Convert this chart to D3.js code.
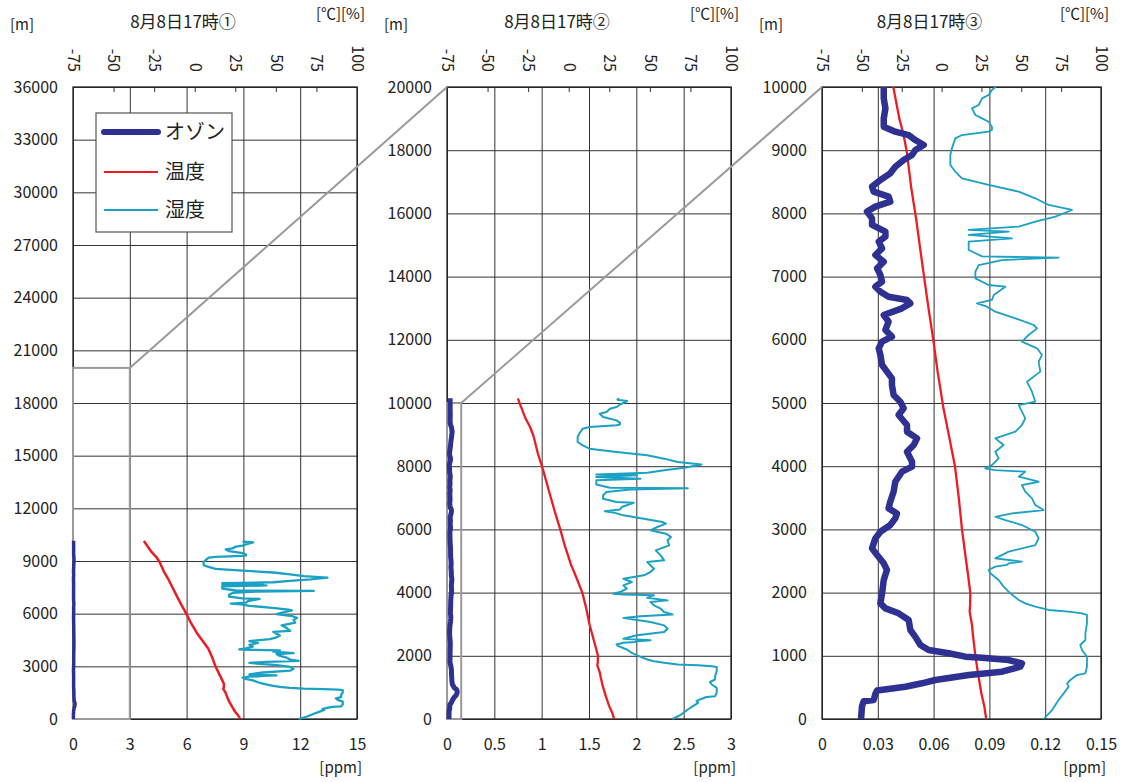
<!DOCTYPE html>
<html>
<head>
<meta charset="utf-8">
<script src="https://cdn.jsdelivr.net/npm/d3@7"></script>
<style>
  body { margin: 0; background: #fff; }
  svg { display: block; font-family: "Liberation Sans Narrow", "Noto Sans CJK JP", sans-serif; }
  .jp { font-family: "Noto Sans CJK JP", sans-serif; }
</style>
</head>
<body>
<svg id="chart" width="1124" height="782"></svg>
<script>
// ---- data: [altitude m, value] ----
const ozone = [
  [0,0.021],[200,0.0215],[280,0.0224],[300,0.0278],[400,0.0287],[450,0.0296],[510,0.0448],[565,0.0538],
  [617,0.0609],[696,0.0789],[749,0.0968],[828,0.1066],[880,0.1075],[933,0.1004],[970,0.086],[986,0.0771],
  [1040,0.0681],[1092,0.0573],[1170,0.0529],[1300,0.0502],[1408,0.0475],[1566,0.0466],[1672,0.0412],
  [1750,0.0341],[1830,0.0314],[1990,0.0323],[2200,0.0332],[2358,0.0349],[2464,0.0332],[2595,0.0296],
  [2700,0.0269],[2858,0.0287],[2963,0.0314],[3069,0.0367],[3174,0.0394],[3253,0.0403],[3333,0.0358],
  [3438,0.0367],[3596,0.0385],[3754,0.0394],[3913,0.043],[3992,0.0484],[4071,0.0484],[4229,0.0457],
  [4335,0.0493],[4440,0.0511],[4546,0.0457],[4652,0.0457],[4810,0.0412],[4916,0.0439],[5021,0.0421],
  [5127,0.0385],[5285,0.0376],[5390,0.0376],[5496,0.0349],[5601,0.0323],[5760,0.0314],[5865,0.0305],
  [5971,0.0323],[6050,0.0376],[6155,0.0341],[6287,0.0358],[6392,0.0332],[6498,0.043],[6577,0.0475],
  [6630,0.0457],[6682,0.0358],[6761,0.0314],[6840,0.0287],[6919,0.0323],[7025,0.0314],[7131,0.0296],
  [7236,0.0332],[7342,0.0287],[7447,0.0323],[7553,0.0305],[7632,0.0341],[7711,0.0341],[7817,0.0269],
  [7922,0.0269],[8028,0.0242],[8107,0.0287],[8186,0.0367],[8265,0.0358],[8344,0.0278],[8423,0.0269],
  [8528,0.0314],[8634,0.0367],[8739,0.0394],[8845,0.0439],[8924,0.0484],[9003,0.0502],[9082,0.0547],
  [9161,0.0502],[9240,0.0466],[9293,0.0394],[9372,0.0332],[9504,0.0332],[9662,0.0341],[9820,0.0332],
  [9979,0.0332],[10150,0.033]
];
const temperature = [
  [0,28.0],[200,26.8],[400,25.0],[700,23.0],[1000,21.2],[1300,19.8],[1500,19.0],[1700,17.6],[1800,17.9],
  [2000,18.0],[2300,16.5],[2500,15.4],[3000,12.8],[3500,10.8],[4000,8.4],[4500,4.5],[4900,1.3],
  [5500,-2.5],[6000,-5.2],[6500,-8.2],[7000,-11.0],[7420,-13.3],[7920,-16.0],[8400,-19.0],[8955,-21.7],
  [9240,-23.8],[9500,-26.5],[10030,-30.5],[10150,-31.3]
];
const humidity = [
  [0,64.0],[142,69.3],[300,73.4],[406,76.6],[512,79.7],[565,78.7],[617,80.8],[696,84.9],[723,90.2],
  [828,91.2],[986,91.2],[1092,88.1],[1171,87.0],[1250,90.2],[1356,90.2],[1514,91.2],[1646,91.2],
  [1672,88.1],[1698,79.7],[1725,67.2],[1777,58.8],[1830,52.5],[1883,48.4],[1989,43.1],[2094,38.9],
  [2200,35.8],[2305,30.6],[2358,29.5],[2411,33.7],[2437,41.0],[2464,42.1],[2489,50.4],[2516,42.1],
  [2542,33.7],[2648,42.1],[2753,58.8],[2858,60.9],[2963,58.8],[3069,50.4],[3148,40.0],[3200,33.7],
  [3253,44.2],[3306,64.0],[3385,58.8],[3491,56.7],[3596,52.5],[3702,50.4],[3754,60.9],[3834,48.4],
  [3913,52.5],[3939,33.7],[3966,27.4],[4018,31.6],[4124,35.8],[4229,33.7],[4335,38.9],[4440,33.7],
  [4546,46.3],[4652,50.4],[4757,52.5],[4863,50.4],[4968,48.4],[5021,58.8],[5179,56.7],[5337,53.6],
  [5496,61.9],[5654,60.9],[5760,63.0],[5865,59.9],[5971,50.4],[6076,54.6],[6181,59.9],[6234,57.8],
  [6340,46.3],[6445,33.7],[6524,28.5],[6577,22.2],[6630,31.6],[6709,32.7],[6840,40.0],[6867,29.5],
  [6972,21.2],[7078,21.2],[7183,23.3],[7262,37.9],[7299,73.4],[7320,25.4],[7421,17.0],[7553,17.0],
  [7606,44.2],[7659,17.0],[7711,42.1],[7738,17.0],[7790,48.4],[7870,58.8],[7949,71.4],[8054,81.8],
  [8133,67.2],[8239,58.8],[8344,48.4],[8450,29.5],[8555,12.8],[8660,8.6],[8766,5.5],[8924,5.5],
  [9029,6.5],[9187,8.6],[9240,12.8],[9293,29.5],[9319,31.6],[9372,31.6],[9451,29.5],[9504,25.4],
  [9557,21.2],[9662,19.1],[9715,23.3],[9820,25.4],[9873,29.5],[9952,31.6],[10000,33.7],[10060,36.0],
  [10100,30.0],[10150,31.0]
];

const titles = ['8月8日17時①', '8月8日17時②', '8月8日17時③'];
const ppmTicks = [
  [0, 3, 6, 9, 12, 15],
  [0, 0.5, 1, 1.5, 2, 2.5, 3],
  [0, 0.03, 0.06, 0.09, 0.12, 0.15]
];
const altTicks = [
  [0, 3000, 6000, 9000, 12000, 15000, 18000, 21000, 24000, 27000, 30000, 33000, 36000],
  [0, 2000, 4000, 6000, 8000, 10000, 12000, 14000, 16000, 18000, 20000],
  [0, 1000, 2000, 3000, 4000, 5000, 6000, 7000, 8000, 9000, 10000]
];
const degTicks = [-75, -50, -25, 0, 25, 50, 75, 100];
// extent of the next panel, drawn as a zoom box: [ppm, m]
const zoomExtents = [[3, 20000], [0.15, 10000]];
const legendNames = ['オゾン', '温度', '湿度'];

// ---- layout ----
const colors = { ozone: '#2e3192', temp: '#ed1c24', hum: '#1ba1c3' };
const plotTop = 87, plotBottom = 719;
const panels = [
  { left: 73, right: 357, ozW: 3.5, tW: 2.5, hW: 2.3 },
  { left: 447, right: 731, ozW: 5, tW: 2.3, hW: 2 },
  { left: 822, right: 1101, ozW: 6.5, tW: 2.3, hW: 1.8 }
];

const svg = d3.select('#chart');
const scales = [];

panels.forEach((p, i) => {
  const ppm = ppmTicks[i], alts = altTicks[i];
  const x = d3.scaleLinear().domain([ppm[0], ppm[ppm.length - 1]]).range([p.left, p.right]);
  const t = d3.scaleLinear().domain([degTicks[0], degTicks[degTicks.length - 1]]).range([p.left, p.right]);
  const y = d3.scaleLinear().domain([alts[0], alts[alts.length - 1]]).range([plotBottom, plotTop]);
  scales.push({ x, t, y });
  const w = p.right - p.left, h = plotBottom - plotTop;
  const g = svg.append('g');

  // horizontal grid + altitude labels
  g.append('g')
    .attr('transform', `translate(${p.left},0)`)
    .call(d3.axisLeft(y).tickValues(alts).tickSize(-w).tickPadding(15).tickFormat(d => d))
    .attr('font-size', null).attr('font-family', null)
    .call(a => a.select('.domain').remove())
    .call(a => a.selectAll('line').attr('stroke', '#333'))
    .call(a => a.selectAll('text').attr('font-size', 16).attr('fill', '#222'));

  // vertical grid + ppm labels
  g.append('g')
    .attr('transform', `translate(0,${plotBottom})`)
    .call(d3.axisBottom(x).tickValues(ppm).tickSize(-h).tickPadding(20).tickFormat(d => d))
    .attr('font-size', null).attr('font-family', null)
    .call(a => a.select('.domain').remove())
    .call(a => a.selectAll('line').attr('stroke', '#333'))
    .call(a => a.selectAll('text').attr('font-size', 16).attr('fill', '#222'));

  // top axis (℃ / %), rotated labels
  g.append('g')
    .attr('transform', `translate(0,${plotTop})`)
    .call(d3.axisTop(t).tickValues(degTicks).tickSize(-5).tickFormat(d => d))
    .attr('font-size', null).attr('font-family', null)
    .call(a => a.select('.domain').remove())
    .call(a => a.selectAll('line').attr('stroke', '#333'))
    .call(a => a.selectAll('text')
      .attr('x', 0).attr('y', 0).attr('dy', '0.35em')
      .attr('transform', `translate(0,${72 - plotTop}) rotate(90)`)
      .attr('text-anchor', 'end')
      .attr('font-size', 16).attr('fill', '#222'));

  // frame
  g.append('rect')
    .attr('x', p.left).attr('y', plotTop).attr('width', w).attr('height', h)
    .attr('fill', 'none').attr('stroke', '#222').attr('stroke-width', 1.3);

  // texts
  g.append('text').attr('class', 'jp')
    .attr('x', p.left + w / 2 - 32).attr('y', 22).attr('dy', '0.35em')
    .attr('text-anchor', 'middle').attr('font-size', 17).attr('fill', '#222')
    .text(titles[i]);
  g.append('text').attr('class', 'jp')
    .attr('x', p.left - 63).attr('y', 25).attr('dy', '0.35em')
    .attr('font-size', 15).attr('fill', '#222').text('[m]');
  g.append('text').attr('class', 'jp')
    .attr('x', p.right + 8).attr('y', 14).attr('dy', '0.35em')
    .attr('text-anchor', 'end').attr('font-size', 15).attr('fill', '#222').text('[℃][%]');
  g.append('text').attr('class', 'jp')
    .attr('x', p.right + 5).attr('y', 768).attr('dy', '0.35em')
    .attr('text-anchor', 'end').attr('font-size', 15).attr('fill', '#222').text('[ppm]');
});

// zoom boxes and connector lines
zoomExtents.forEach((z, i) => {
  const s = scales[i], nx = panels[i + 1];
  svg.append('rect')
    .attr('x', s.x(0)).attr('y', s.y(z[1]))
    .attr('width', s.x(z[0]) - s.x(0)).attr('height', s.y(0) - s.y(z[1]))
    .attr('fill', 'none').attr('stroke', '#9a9a9a').attr('stroke-width', 2);
  svg.append('line')
    .attr('x1', s.x(z[0])).attr('y1', s.y(z[1]))
    .attr('x2', nx.left).attr('y2', plotTop)
    .attr('stroke', '#9a9a9a').attr('stroke-width', 2);
});

// data lines
panels.forEach((p, i) => {
  const s = scales[i];
  svg.append('clipPath').attr('id', 'clip' + i)
    .append('rect').attr('x', p.left - 10).attr('y', plotTop)
    .attr('width', p.right - p.left + 20).attr('height', plotBottom - plotTop + 10);
  const g = svg.append('g').attr('clip-path', `url(#clip${i})`);

  const lineT = d3.line().x(d => s.t(d[1])).y(d => s.y(d[0]));
  const lineX = d3.line().x(d => s.x(d[1])).y(d => s.y(d[0]));

  g.append('path').datum(humidity).attr('d', lineT)
    .attr('fill', 'none').attr('stroke', colors.hum).attr('stroke-width', p.hW)
    .attr('stroke-linejoin', 'round');
  g.append('path').datum(temperature).attr('d', lineT)
    .attr('fill', 'none').attr('stroke', colors.temp).attr('stroke-width', p.tW)
    .attr('stroke-linejoin', 'round');
  g.append('path').datum(ozone).attr('d', lineX)
    .attr('fill', 'none').attr('stroke', colors.ozone).attr('stroke-width', p.ozW)
    .attr('stroke-linejoin', 'round');
});

// legend (panel 1)
const legend = svg.append('g');
legend.append('rect')
  .attr('x', 96).attr('y', 113).attr('width', 136).attr('height', 119)
  .attr('fill', '#fff').attr('stroke', '#555').attr('stroke-width', 1.2);
const legendStyle = [
  { color: colors.ozone, width: 6, y: 132 },
  { color: colors.temp, width: 2.2, y: 172 },
  { color: colors.hum, width: 2.2, y: 210 }
];
legendNames.forEach((name, k) => {
  const ls = legendStyle[k];
  legend.append('line')
    .attr('x1', 104).attr('x2', 158).attr('y1', ls.y).attr('y2', ls.y)
    .attr('stroke', ls.color).attr('stroke-width', ls.width)
    .attr('stroke-linecap', k === 0 ? 'round' : 'butt');
  legend.append('text').attr('class', 'jp')
    .attr('x', 165).attr('y', ls.y).attr('dy', '0.35em')
    .attr('font-size', 20).attr('fill', '#222').text(name);
});
</script>
</body>
</html>
